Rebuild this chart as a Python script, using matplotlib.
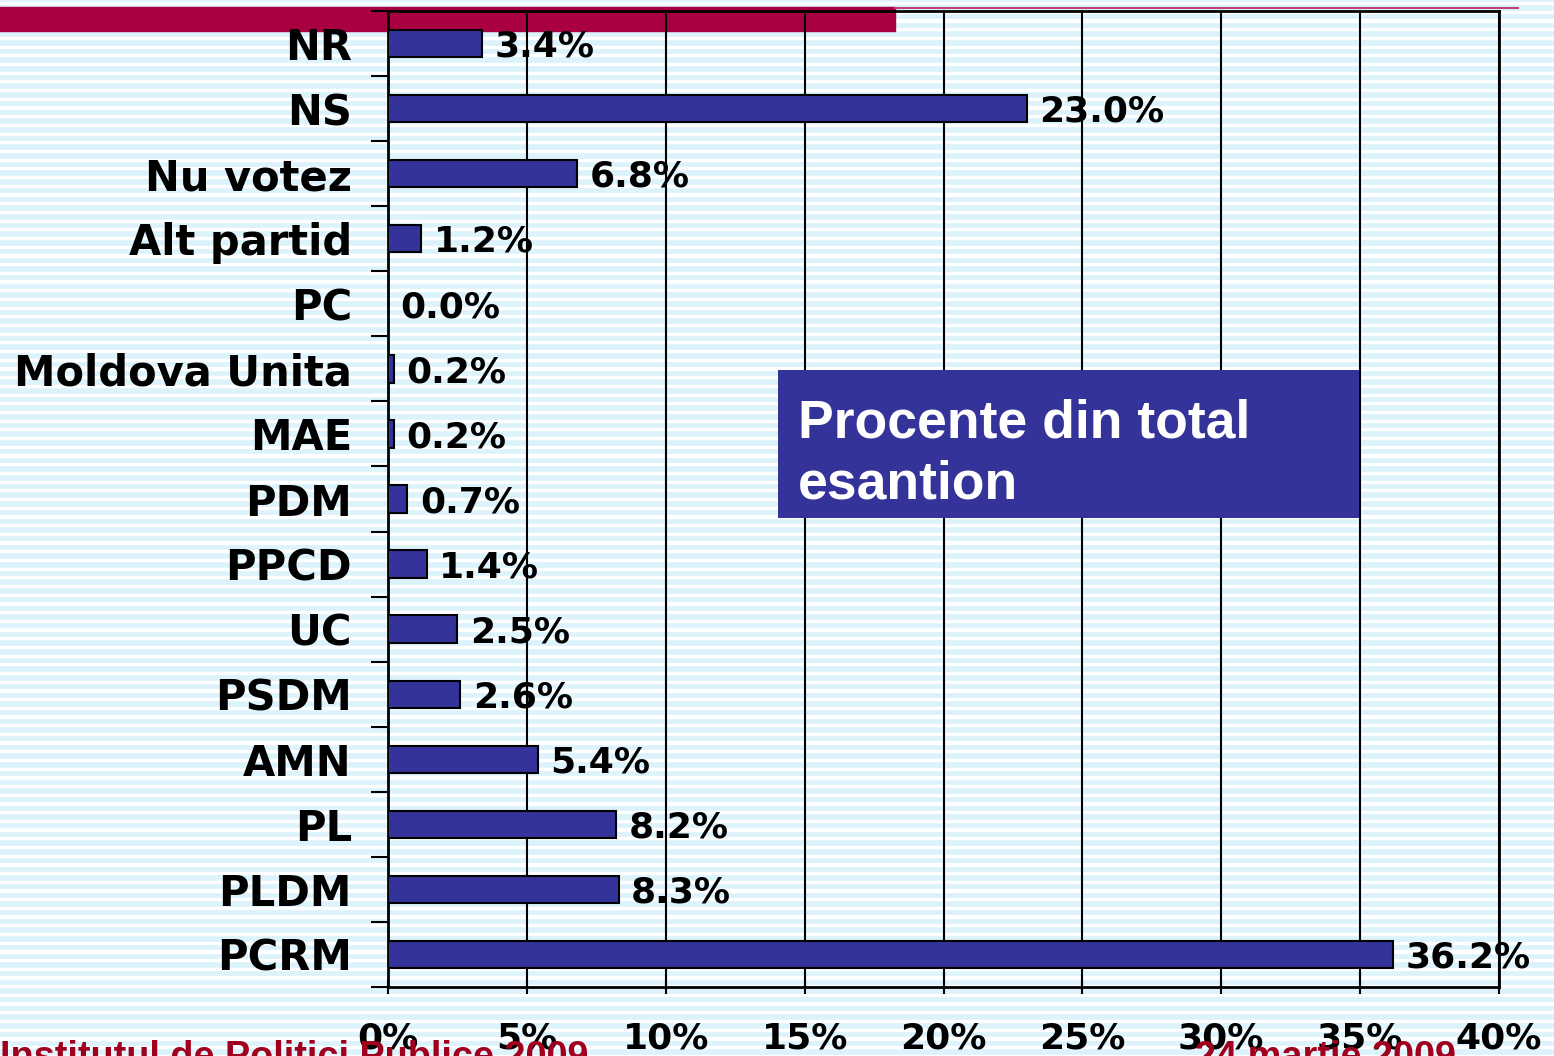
import numpy as np
import matplotlib.pyplot as plt
from matplotlib.patches import Rectangle
from matplotlib.ticker import FixedLocator

# Data (bottom to top, as drawn)
parties = ["PCRM", "PLDM", "PL", "AMN", "PSDM", "UC", "PPCD", "PDM", "MAE",
           "Moldova Unita", "PC", "Alt partid", "Nu votez", "NS", "NR"]
shares = [36.2, 8.3, 8.2, 5.4, 2.6, 2.5, 1.4, 0.7, 0.2, 0.2, 0.0, 1.2, 6.8, 23.0, 3.4]
x_ticks = [0, 5, 10, 15, 20, 25, 30, 35, 40]

BAR = "#333399"
RED = "#A80040"
FOOT = "#A0001E"
W, H = 1554, 1056

fig = plt.figure(figsize=(W / 100, H / 100), dpi=100)

# striped background
bg = fig.add_axes([0, 0, 1, 1])
bg.set_xlim(0, W)
bg.set_ylim(H, 0)
bg.axis("off")
bg.add_patch(Rectangle((0, 0), W, H, color="#DCF3FC", zorder=0))
for y in np.arange(2, H, 8.7):
    bg.add_patch(Rectangle((0, y), W, 2.2, color="white", zorder=1))
# header bar and thin line
bg.add_patch(Rectangle((0, 7), 895, 24, color=RED, zorder=2))
bg.plot([895, 1518], [7.5, 7.5], color="#C04070", lw=1.5, zorder=2)

# footer texts
fig.text(0, -0.011, "Institutul de Politici Publice 2009", color=FOOT,
         fontsize=27.3, fontweight="bold", family="Liberation Sans", va="baseline")
fig.text(1195 / W, -0.011, "24 martie 2009", color=FOOT,
         fontsize=27.3, fontweight="bold", family="Liberation Sans", va="baseline")

ax = fig.add_axes([388 / W, (H - 987) / H, (1499 - 388) / W, (987 - 11) / H])
ax.patch.set_alpha(0)
y = np.arange(len(parties))
ax.barh(y, shares, height=0.42, color=BAR, edgecolor="black", lw=1.5, zorder=3)
for yi, v in zip(y, shares):
    ax.text(v + 0.45, yi - 0.05, f"{v:.1f}%", va="center", ha="left",
            fontsize=26, fontweight="bold", zorder=4)

ax.set_xlim(0, 40)
ax.set_ylim(-0.5, len(parties) - 0.5)
ax.set_xticks(x_ticks)
ax.set_xticklabels([f"{t}%" for t in x_ticks], fontsize=26, fontweight="bold")
ax.set_yticks(y)
ax.set_yticklabels(parties, fontsize=30, fontweight="bold")
ax.yaxis.set_minor_locator(FixedLocator(np.arange(-0.5, len(parties), 1)))
ax.tick_params(axis="y", which="major", length=0, pad=26)
ax.tick_params(axis="y", which="minor", length=12, width=1.5, direction="out")
ax.tick_params(axis="x", length=10, width=1.5, direction="inout", pad=20)
ax.grid(axis="x", color="black", lw=1.5, zorder=1)
for s in ax.spines.values():
    s.set_linewidth(2)

# label box
ax.add_patch(Rectangle((0.351, 0.4805), 0.523, 0.1515, transform=ax.transAxes,
                       facecolor=BAR, edgecolor="none", zorder=5))
for txt, yy in [("Procente din total", 0.5635), ("esantion", 0.501)]:
    ax.text(0.369, yy, txt, transform=ax.transAxes, fontsize=38.5,
            fontweight="bold", family="Liberation Sans", color="white",
            va="baseline", ha="left", zorder=6)

fig.savefig("out.png", dpi=100)
